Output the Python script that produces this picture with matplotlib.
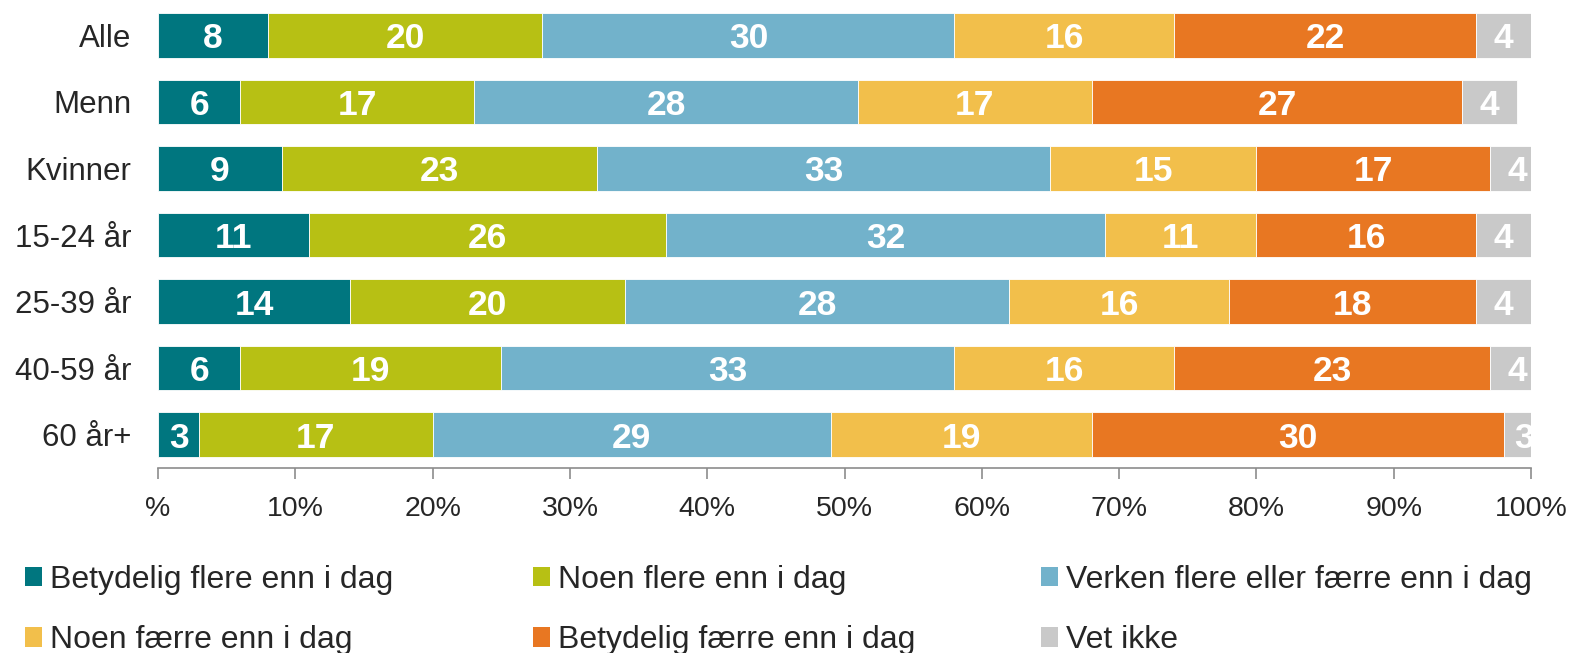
import numpy as np
import matplotlib.pyplot as plt
from matplotlib.patches import Patch

plt.rcParams['font.family'] = ['Liberation Sans', 'DejaVu Sans']

# ----------------------------
# Data
# ----------------------------
groups = ["Alle", "Menn", "Kvinner", "15-24 år", "25-39 år", "40-59 år", "60 år+"]
series = ["Betydelig flere enn i dag", "Noen flere enn i dag",
          "Verken flere eller færre enn i dag", "Noen færre enn i dag",
          "Betydelig færre enn i dag", "Vet ikke"]
betydelig_flere = [8, 6, 9, 11, 14, 6, 3]
noen_flere = [20, 17, 23, 26, 20, 19, 17]
verken = [30, 28, 33, 32, 28, 33, 29]
noen_faerre = [16, 17, 15, 11, 16, 16, 19]
betydelig_faerre = [22, 27, 17, 16, 18, 23, 30]
vet_ikke = [4, 4, 4, 4, 4, 4, 3]
xticks = [0, 10, 20, 30, 40, 50, 60, 70, 80, 90, 100]
xticklabels = ["%", "10%", "20%", "30%", "40%", "50%", "60%", "70%", "80%", "90%", "100%"]

colors = ["#00767F", "#B7C014", "#72B2CB", "#F2BF4B", "#E87722", "#C9C9C9"]
values = [betydelig_flere, noen_flere, verken, noen_faerre, betydelig_faerre, vet_ikke]
text_color = "#262626"

# ----------------------------
# Plot
# ----------------------------
fig = plt.figure(figsize=(15.72, 6.53), dpi=100)
ax = fig.add_axes([158 / 1572, 185 / 653, (1531 - 158) / 1572, (651 - 185) / 653])

y = np.arange(len(groups))
left = np.zeros(len(groups))
for vals, col in zip(values, colors):
    vals = np.array(vals, dtype=float)
    ax.barh(y, vals, left=left, height=0.67, color=col,
            edgecolor="white", linewidth=0.6)
    for yi, (l, v) in enumerate(zip(left, vals)):
        ax.text(l + v / 2, yi, f"{v:.0f}", ha="center", va="center_baseline",
                color="white", fontsize=25.5, fontweight="bold", clip_on=True)
    left += vals

ax.set_xlim(0, 100)
ax.set_ylim(6.5, -0.5)
ax.set_yticks(y)
ax.set_yticklabels(groups, fontsize=22.5, color=text_color)
ax.tick_params(axis="y", length=0, pad=19)
ax.set_xticks(xticks)
ax.set_xticklabels(xticklabels, fontsize=20.5, color=text_color)
ax.tick_params(axis="x", length=8, width=1.2, color="#8c8c8c", pad=12)

for s in ["top", "right", "left"]:
    ax.spines[s].set_visible(False)
ax.spines["bottom"].set_color("#8c8c8c")
ax.spines["bottom"].set_linewidth(1.2)

# legend: three columns, two rows (row-wise order)
col_x = [25 / 1572, 533 / 1572, 1041 / 1572]
for c in range(3):
    handles = [Patch(facecolor=colors[c], edgecolor="none"),
               Patch(facecolor=colors[c + 3], edgecolor="none")]
    labels = [series[c], series[c + 3]]
    fig.legend(handles, labels, loc="upper left",
               bbox_to_anchor=(col_x[c], 88 / 653), frameon=False,
               fontsize=23, handlelength=0.52, handleheight=0.55,
               handletextpad=0.25, labelspacing=0.95, borderaxespad=0,
               borderpad=0, labelcolor=text_color)

fig.savefig("out.png", dpi=100)
